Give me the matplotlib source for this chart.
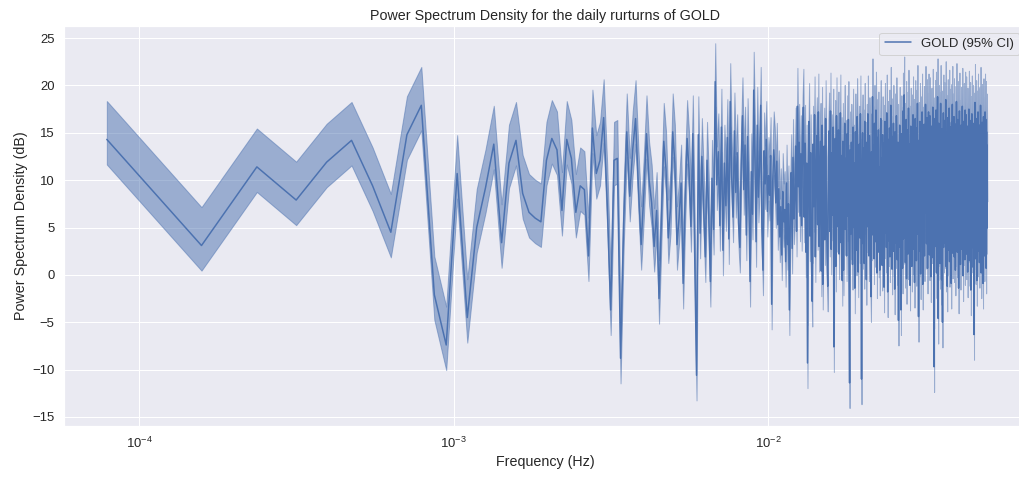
"""Power spectrum density of GOLD daily returns, drawn as a line with a
95% confidence band on a log frequency axis. Saves out.png.
"""

import matplotlib

matplotlib.use("Agg")
import matplotlib.pyplot as plt
import numpy as np
import seaborn as sns

FREQ_STEP = 7.9e-5  # spacing of the periodogram bins (Hz)

# PSD in dB, one value per bin
PSD_DB = [
    14.3, 3.1, 11.4, 7.9, 11.9, 14.2, 9.4, 4.5, 14.8, 17.9,
    -2.1, -7.4, 10.7, -4.5, 5.0, 9.2, 13.8, 3.4, 11.8, 14.2,
    8.6, 6.6, 6.0, 5.6, 12.1, 14.4, 13.2, 6.8, 14.3, 12.3,
    6.6, 9.4, 9.0, 2.0, 15.5, 10.7, 12.1, 16.6, 7.6, -3.7,
    12.1, 12.3, -8.8, 5.5, 15.1, 8.3, 13.2, 16.5, 9.3, 3.2,
    8.6, 14.9, 10.0, 7.6, 3.0, 6.8, -2.5, 6.0, 14.1, 11.1,
    3.9, 7.0, 15.1, 11.8, 3.2, 6.0, 9.7, -0.9, 8.0, 14.4,
    11.0, 5.1, 14.9, 2.0, -10.6, 14.8, 4.4, 12.5, 7.0, 1.9,
    12.1, 6.5, -0.7, 10.2, 4.8, 20.4, 9.5, 13.0, 5.2, 15.6,
    2.6, 11.8, 7.3, 14.5, 3.8, 18.3, 10.4, 6.1, 15.2, 8.7,
    12.9, 5.5, 2.9, 11.6, 16.8, 9.0, 13.7, 4.2, 14.6, 7.8,
    -0.7, 10.9, 6.4, 19.5, 12.2, 3.5, 15.8, 8.2, 11.4, 17.9,
    5.0, 0.5, 13.1, 9.6, 14.3, 6.7, 10.5, 8.4, 12.6, -3.1,
    9.8, 13.2, 11.5, 7.6, 12.0, 5.3, 9.1, 4.0, 7.2, 2.1,
    8.8, 5.6, 6.9, 1.4, 9.7, 3.2, 7.5, -3.7, 6.3, 10.8,
    2.8, 12.4, 5.9, 8.1, 13.6, 4.6, 17.8, 9.3, 14.0, 6.2,
    12.8, 5.2, 14.6, 17.7, 6.1, 13.9, 2.4, 11.8, -9.3, 10.4,
    16.2, 4.1, 12.9, 1.5, -2.8, 13.8, 7.2, 16.9, 1.9, 11.0,
    14.7, 5.3, 17.2, 3.0, 10.9, 14.1, 0.4, 15.8, -1.0, 9.2,
    13.6, 3.7, 16.5, 8.1, 1.8, -1.2, 12.4, 15.2, 4.6, 17.3,
    2.7, 12.9, 6.3, 15.6, -7.6, 10.8, 14.4, 0.9, 16.8, 5.1,
    11.7, 15.3, 2.2, 7.5, 17.1, 3.4, 12.6, -0.6, 14.1, 0.5,
    10.6, 16.0, 4.8, 12.3, 2.0, 14.9, 6.2, 16.4, -0.2, -11.4,
    13.2, 4.3, 14.0, 10.2, 1.1, 15.6, 5.0, 11.8, -1.4, 15.1,
    9.7, 2.6, 16.7, 12.5, 0.3, 10.9, 13.8, 3.9, 17.0, 5.8,
    -11.0, 11.2, 15.0, 3.3, 13.4, 1.2, 16.2, 7.0, 12.1, -0.5,
    14.0, 5.1, 17.0, 10.3, 2.0, 14.7, 11.6, 0.8, -2.3, 13.0,
    4.2, 18.8, 6.4, 13.7, 1.7, 16.0, 10.8, 3.5, 17.4, 11.9,
    0.2, 14.5, 5.6, 15.3, 2.4, 11.4, 0.5, 13.1, 16.5, 4.0,
    12.3, 1.0, 14.8, 7.6, 13.9, -1.3, 10.5, 16.2, 4.4, 12.9,
    2.9, 17.1, 6.9, -1.8, 14.3, 11.6, 3.6, 15.5, 1.9, 10.9,
    17.9, 5.0, 12.7, 0.6, 14.6, 7.3, 16.0, 2.5, 12.0, -1.5,
    15.1, 8.2, 3.4, 16.8, 13.3, 1.6, 7.0, 14.0, -4.8, 11.8,
    4.5, 15.8, 2.9, 11.3, -3.7, 14.9, 6.3, 13.6, 0.7, 17.3,
    3.8, 12.5, 19.0, 5.4, 14.1, 1.3, 10.9, 16.4, -0.4, 12.8,
    6.0, 15.3, 2.2, 17.6, 11.9, 3.1, 13.8, -1.1, 11.4, 15.7,
    4.9, 13.2, 0.9, 15.0, 7.4, 16.9, 2.7, 12.0, 14.5, -0.8,
    10.9, 16.5, 4.0, 12.8, 1.5, 15.5, 6.6, 18.1, 4.3, 12.6,
    -4.4, 14.2, 10.6, 2.5, 16.2, 13.0, 0.1, 7.2, 14.8, 3.6,
    17.2, 11.8, -1.0, 13.7, 5.2, 11.1, 15.9, 2.0, 13.4, 6.5,
    18.0, 8.0, 14.4, 3.3, 16.6, 12.4, 0.7, 15.1, 6.1, 17.2,
    4.6, 13.6, 2.1, 16.8, 11.5, 14.3, -0.2, 12.4, 15.7, 3.9,
    13.2, 6.0, 17.7, 1.8, 14.7, 11.1, -9.7, 14.0, 5.0, 16.5,
    3.0, 12.1, 17.4, 7.4, 0.2, 14.6, 11.7, 18.8, 4.5, -4.6,
    13.0, 16.0, 3.6, 10.8, 15.2, 1.2, 13.5, 18.1, 5.6, 12.3,
    -0.5, 15.4, 6.3, -5.0, 13.9, 10.6, 17.1, 2.9, 12.7, 16.3,
    7.0, 3.4, 14.1, 11.6, 18.5, 0.9, 11.3, 14.9, 4.6, -1.2,
    13.3, 16.6, 2.6, 12.0, 14.5, 6.7, 17.6, 1.4, 12.9, 7.6,
    15.6, 4.1, 12.6, -0.9, 16.1, 7.1, 13.7, 18.0, 2.3, 12.2,
    5.0, 15.1, 11.0, 16.7, 1.9, 13.4, 6.4, 14.2, 0.5, 15.9,
    11.9, 3.6, 18.3, 11.4, 14.6, 2.4, 13.1, 16.4, 4.3, 11.7,
    -1.4, 15.0, 7.3, 17.3, 3.1, 12.8, 14.4, 1.1, 11.2, 15.8,
    5.0, 12.5, 15.3, 2.7, 17.8, 10.9, 13.9, -0.1, 12.7, 6.7,
    16.2, 3.7, 12.2, 14.7, 1.6, 17.4, 10.6, 13.6, 4.3, 16.9,
    2.2, 14.3, 11.9, 6.5, 15.7, 0.3, 13.2, 15.5, 4.0, 11.5,
    17.5, 5.8, 13.8, 1.5, 12.4, 16.3, 7.0, 13.0, -1.6, 14.8,
    10.8, 3.5, 17.0, 12.0, 14.1, 2.9, 6.3, 16.0, 0.8, 13.5,
    4.5, -6.3, 11.7, 15.2, 3.3, 18.2, 11.3, 13.7, 1.7, 12.7,
    16.5, 6.6, 12.6, -0.6, 15.4, 5.2, 14.5, 11.0, 17.2, 2.5,
    12.9, 15.6, 3.9, 11.8, 1.3, 15.8, 7.1, 14.0, 4.2, 17.9,
    11.1, 13.3, 0.2, 14.9, 6.4, 12.5, 16.1, 3.0, 14.4, 3.6,
    -0.9, 13.1, 16.7, 5.6, 11.4, 14.7, 2.0, 13.9, 12.2, 17.2,
    4.1, 13.4, 6.8, 16.4, 0.7, 11.9, 15.1, 4.9, 13.7, 10.4,
]

# the 95% band sits a fixed number of dB below / above the estimate
CI_LOWER_DB = 2.65
CI_UPPER_DB = 4.05

LINE_COLOR = "#4C72B0"
DPI = 72


def main() -> None:
    sns.set_theme(style="darkgrid", font_scale=1.19)
    plt.rcParams["font.family"] = ["Liberation Sans", "DejaVu Sans"]
    plt.rcParams["mathtext.fontset"] = "custom"
    plt.rcParams["mathtext.rm"] = "Liberation Sans"
    plt.rcParams["mathtext.it"] = "Liberation Sans:italic"
    plt.rcParams["mathtext.bf"] = "Liberation Sans:bold"

    psd = np.array(PSD_DB)
    freqs = FREQ_STEP * np.arange(1, len(psd) + 1)

    fig = plt.figure(figsize=(1019 / DPI, 482 / DPI), dpi=DPI)
    # the right edge of the axes runs just past the picture, as in the reference
    ax = fig.add_axes([64 / 1019, 56 / 482, (1026 - 64) / 1019, (426 - 26) / 482])

    # keep the polygon edge on: thin spikes in the dense part stay visible
    ax.fill_between(freqs, psd - CI_LOWER_DB, psd + CI_UPPER_DB,
                    color=LINE_COLOR, alpha=0.5)
    ax.plot(freqs, psd, color=LINE_COLOR, linewidth=1.5, label="GOLD (95% CI)")

    ax.set_xscale("log")
    ax.set_xlim(10 ** -4.2385, 10 ** -1.1797)
    ax.set_ylim(-15.95, 26.27)
    ax.set_yticks(np.arange(-15, 26, 5))
    ax.minorticks_off()

    ax.set_title("Power Spectrum Density for the daily rurturns of GOLD")
    ax.set_xlabel("Frequency (Hz)")
    ax.set_ylabel("Power Spectrum Density (dB)")
    ax.legend(loc="upper right")

    fig.savefig("out.png", dpi=DPI)
    plt.close(fig)


if __name__ == "__main__":
    main()
